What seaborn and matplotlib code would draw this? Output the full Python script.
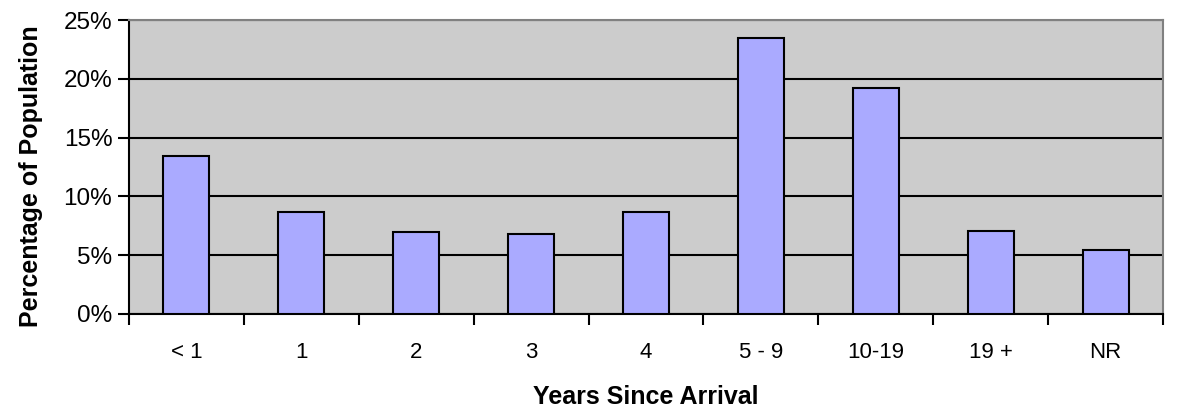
import matplotlib
matplotlib.use("Agg")
import matplotlib.pyplot as plt
import seaborn as sns
import pandas as pd
import numpy as np
from matplotlib.ticker import FixedLocator, FuncFormatter

categories = ["< 1", "1", "2", "3", "4", "5 - 9", "10-19", "19 +", "NR"]
values = [13.4, 8.7, 7.0, 6.8, 8.7, 23.5, 19.2, 7.1, 5.4]
y_ticks = [0, 5, 10, 15, 20, 25]

df = pd.DataFrame({"cat": categories, "val": values})

sns.set_style("white")
plt.rcParams['font.family'] = ['Liberation Sans', 'DejaVu Sans']
plt.rcParams['text.color'] = 'black'
plt.rcParams['axes.labelcolor'] = 'black'
plt.rcParams['xtick.color'] = 'black'
plt.rcParams['ytick.color'] = 'black'

fig = plt.figure(figsize=(11.78, 4.11), dpi=100)
ax = fig.add_axes([129/1178, 1 - 314/411, (1163-129)/1178, (314-20)/411])
ax.set_facecolor("#CCCCCC")
ax.set_axisbelow(True)

sns.barplot(data=df, x="cat", y="val", color="#AAAAFF", edgecolor="black",
            linewidth=1.5, width=0.4, saturation=1, ax=ax, zorder=3)

ax.set_ylim(0, 25)
ax.set_xlim(-0.5, len(categories) - 0.5)
ax.yaxis.set_major_locator(FixedLocator(y_ticks))
ax.yaxis.set_major_formatter(FuncFormatter(lambda v, p: f"{int(v)}%"))
ax.yaxis.grid(True, color="black", linewidth=1.5)
ax.xaxis.grid(False)

ax.set_xticks(range(len(categories)))
ax.set_xticklabels(categories)
ax.xaxis.set_minor_locator(FixedLocator(np.arange(-0.5, len(categories), 1.0)))
ax.tick_params(axis="x", which="major", length=0, pad=20, labelsize=16)
ax.tick_params(axis="x", which="minor", length=8, width=1.5, direction="out", color="black", bottom=True)
ax.tick_params(axis="y", which="major", length=8, width=1.5, direction="out", color="black", labelsize=17.5, pad=4, left=True)

for s in ["left", "bottom"]:
    ax.spines[s].set_color("black")
    ax.spines[s].set_linewidth(1.5)
for s in ["top", "right"]:
    ax.spines[s].set_color("#808080")
    ax.spines[s].set_linewidth(1.5)
    ax.spines[s].set_visible(True)

ax.set_xlabel("Years Since Arrival", fontsize=18, fontweight="bold", labelpad=16)
ax.set_ylabel("Percentage of Population", fontsize=18, fontweight="bold")
ax.yaxis.set_label_coords(-0.083, 0.47)

fig.savefig("out.png", dpi=100)
